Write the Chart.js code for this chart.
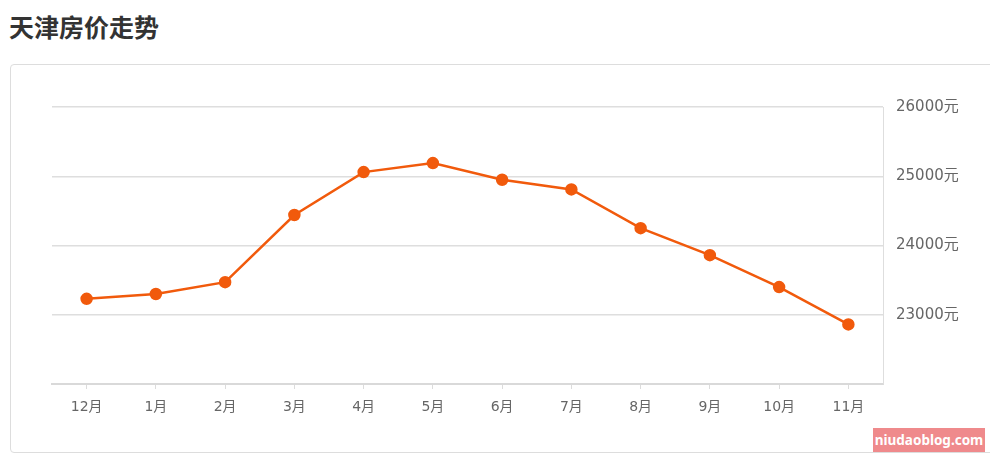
<!DOCTYPE html>
<html>
<head>
<meta charset="utf-8">
<title>天津房价走势</title>
<script src="https://cdn.jsdelivr.net/npm/chart.js@4/dist/chart.umd.min.js"></script>
<style>
  html, body { margin: 0; padding: 0; background: #fff; }
  body { width: 990px; height: 457px; position: relative; overflow: hidden; }
  .title {
    position: absolute; left: 9px; top: 0; height: 52px; line-height: 52px;
    font-family: "Noto Sans CJK SC", sans-serif; font-weight: bold; font-size: 25px; color: #333;
  }
  .card {
    position: absolute; left: 10px; top: 64px; width: 1000px; height: 389px;
    border: 1px solid #ddd; border-radius: 4px; box-sizing: border-box;
  }
  #chart { position: absolute; left: 0; top: 0; }
  .mark {
    position: absolute; left: 873px; top: 428px; width: 112px; height: 24px; line-height: 24px;
    background: #ef8a8c; color: #fff; text-align: center; white-space: nowrap;
    font-family: "Noto Sans", sans-serif; font-weight: bold; font-size: 13.5px;
  }
</style>
</head>
<body>
<div class="title">天津房价走势</div>
<div class="card"></div>
<canvas id="chart" width="990" height="457"></canvas>
<div class="mark">niudaoblog.com</div>
<script>
// 月份和房价（元/平方米）
const months = ['12月', '1月', '2月', '3月', '4月', '5月', '6月', '7月', '8月', '9月', '10月', '11月'];
const prices = [23230, 23300, 23470, 24440, 25060, 25190, 24950, 24810, 24250, 23860, 23400, 22860];
const yTicks = [22000, 23000, 24000, 25000, 26000];

const orange = '#f15a0c';
const fontFamily = '"DejaVu Sans", "Noto Sans CJK SC", sans-serif';

new Chart(document.getElementById('chart'), {
    type: 'line',
    data: {
        labels: months,
        datasets: [{
            label: '房价',
            data: prices,
            borderColor: orange,
            backgroundColor: orange,
            borderWidth: 2.5,
            pointRadius: 5,
            pointHoverRadius: 5,
            pointBackgroundColor: orange,
            pointBorderColor: orange,
            tension: 0
        }]
    },
    options: {
        responsive: false,
        animation: false,
        layout: { padding: { left: 52, top: 107, right: 0, bottom: 0 } },
        plugins: { legend: { display: false }, tooltip: { enabled: false } },
        scales: {
            x: {
                offset: true,
                grid: { offset: false, drawOnChartArea: false, drawTicks: true, tickLength: 5, color: '#dcdcdc' },
                border: { display: true, color: '#d9d9d9', width: 2 },
                ticks: { color: '#666', font: { family: fontFamily, size: 14 }, padding: 10 },
                afterFit: function(scale) { scale.height = 457 - 384; }
            },
            y: {
                position: 'right',
                min: yTicks[0],
                max: yTicks[yTicks.length - 1],
                afterBuildTicks: function(scale) {
                    scale.ticks = yTicks.map(v => ({ value: v }));
                },
                grid: { drawTicks: false, color: '#dedede', lineWidth: 1.5 },
                border: { display: true, color: '#dedede' },
                ticks: {
                    color: '#666',
                    font: { family: fontFamily, size: 15 },
                    padding: 13,
                    callback: function(value) {
                        return value === yTicks[0] ? '' : value + '元';
                    }
                },
                afterFit: function(scale) { scale.width = 990 - 883; }
            }
        }
    }
});
</script>
</body>
</html>
